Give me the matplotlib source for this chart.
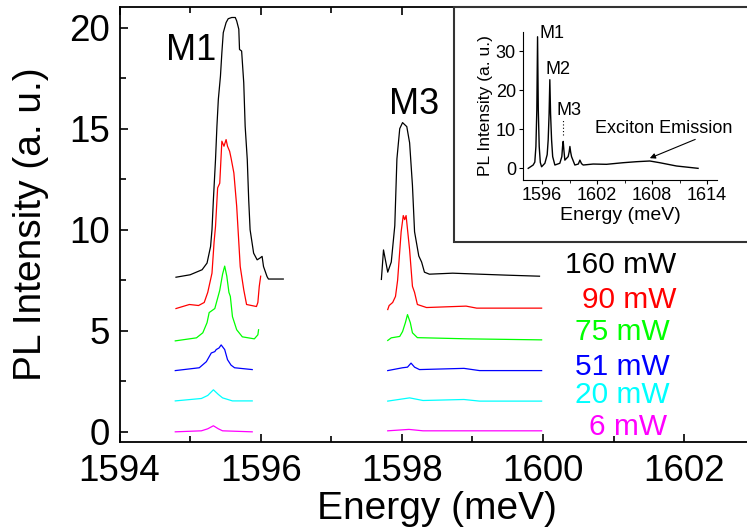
import matplotlib
matplotlib.use("Agg")
import matplotlib.pyplot as plt
from matplotlib.patches import Rectangle
from matplotlib.ticker import MultipleLocator

plt.rcParams['font.family'] = ['Liberation Sans', 'DejaVu Sans']

# ---- main panel data (offsets included) ----
powers = ["160 mW", "90 mW", "75 mW", "51 mW", "20 mW", "6 mW"]
colors = ["black", "red", "#00ff00", "blue", "cyan", "magenta"]

# M1 window
e_m1_160 = [1594.80, 1595.00, 1595.17, 1595.24, 1595.29, 1595.31, 1595.33, 1595.36,
            1595.38, 1595.40, 1595.43, 1595.45, 1595.47, 1595.51, 1595.54, 1595.59,
            1595.64, 1595.66, 1595.69, 1595.70, 1595.73, 1595.76, 1595.78, 1595.81,
            1595.83, 1595.85, 1595.90, 1595.95, 1595.99, 1596.02, 1596.04, 1596.09,
            1596.11, 1596.32]
i_m1_160 = [7.65, 7.77, 8.02, 8.35, 9.17, 10.0, 11.49, 13.47,
            15.12, 16.45, 17.6, 18.76, 19.75, 20.25, 20.44, 20.5,
            20.5, 20.33, 19.92, 18.92, 18.84, 17.27, 15.12, 13.47,
            11.49, 10.0, 8.84, 8.51, 8.6, 8.68, 8.18, 7.68,
            7.56, 7.56]
e_m1_90 = [1594.80, 1594.99, 1595.12, 1595.20, 1595.25, 1595.31, 1595.34, 1595.36,
           1595.39, 1595.42, 1595.45, 1595.48, 1595.51, 1595.53, 1595.56, 1595.58,
           1595.62, 1595.66, 1595.71, 1595.76, 1595.80, 1595.94, 1595.96, 1595.98,
           1596.00]
i_m1_90 = [6.10, 6.30, 6.25, 6.40, 6.90, 7.85, 9.40, 10.16,
           12.07, 12.30, 14.38, 14.13, 14.46, 14.13, 13.88, 13.55,
           12.81, 11.16, 8.18, 7.03, 6.30, 6.20, 6.40, 7.20,
           7.70]
e_m1_75 = [1594.79, 1595.09, 1595.18, 1595.24, 1595.27, 1595.35, 1595.42, 1595.46,
           1595.49, 1595.52, 1595.55, 1595.57, 1595.60, 1595.66, 1595.74, 1595.91,
           1595.96, 1595.97]
i_m1_75 = [4.50, 4.65, 4.90, 5.40, 5.90, 6.10, 7.00, 7.80,
           8.20, 7.70, 6.90, 6.70, 5.70, 5.05, 4.70, 4.60,
           4.80, 5.05]
e_m1_51 = [1594.79, 1595.13, 1595.23, 1595.30, 1595.35, 1595.37, 1595.41, 1595.44,
           1595.49, 1595.53, 1595.58, 1595.63, 1595.88]
i_m1_51 = [3.03, 3.17, 3.47, 3.90, 3.97, 4.07, 4.15, 4.30,
           4.07, 3.57, 3.30, 3.17, 3.08]
e_m1_20 = [1594.79, 1595.16, 1595.25, 1595.33, 1595.40, 1595.46, 1595.60, 1595.88]
i_m1_20 = [1.53, 1.65, 1.80, 2.08, 1.85, 1.68, 1.53, 1.53]
e_m1_6 = [1594.79, 1595.16, 1595.25, 1595.33, 1595.40, 1595.46, 1595.88]
i_m1_6 = [0.00, 0.05, 0.15, 0.30, 0.15, 0.05, 0.00]

# M3 window
e_m3_160 = [1597.71, 1597.74, 1597.80, 1597.85, 1597.90, 1597.93, 1597.97, 1598.01,
            1598.07, 1598.11, 1598.15, 1598.18, 1598.24, 1598.28, 1598.32, 1598.39,
            1598.72, 1599.10, 1599.50, 1599.95]
i_m3_160 = [7.54, 9.00, 7.90, 8.40, 10.2, 13.5, 15.0, 15.3,
            15.1, 14.3, 12.2, 9.90, 8.70, 8.40, 7.90, 7.80,
            7.85, 7.80, 7.75, 7.70]
e_m3_90 = [1597.80, 1597.82, 1597.87, 1597.91, 1597.94, 1597.99, 1598.02, 1598.04,
           1598.06, 1598.11, 1598.15, 1598.18, 1598.22, 1598.35, 1598.91, 1599.06,
           1599.98]
i_m3_90 = [6.05, 6.25, 6.40, 6.70, 7.50, 9.90, 10.7, 10.5,
           10.7, 9.00, 7.20, 6.90, 6.30, 6.15, 6.22, 6.12,
           6.12]
e_m3_75 = [1597.80, 1597.85, 1597.97, 1598.01, 1598.05, 1598.08, 1598.12, 1598.15,
           1598.22, 1598.94, 1599.98]
i_m3_75 = [4.52, 4.65, 4.72, 4.96, 5.40, 5.80, 5.40, 4.90,
           4.66, 4.60, 4.55]
e_m3_51 = [1597.80, 1598.01, 1598.08, 1598.13, 1598.18, 1598.25, 1598.88, 1599.10, 1599.98]
i_m3_51 = [3.03, 3.17, 3.20, 3.40, 3.20, 3.08, 3.14, 3.03, 3.03]
e_m3_20 = [1597.80, 1598.11, 1598.30, 1598.88, 1599.10, 1599.98]
i_m3_20 = [1.52, 1.68, 1.55, 1.60, 1.52, 1.52]
e_m3_6 = [1597.80, 1598.10, 1598.30, 1599.98]
i_m3_6 = [0.05, 0.12, 0.05, 0.05]

m1_e = [e_m1_160, e_m1_90, e_m1_75, e_m1_51, e_m1_20, e_m1_6]
m1_i = [i_m1_160, i_m1_90, i_m1_75, i_m1_51, i_m1_20, i_m1_6]
m3_e = [e_m3_160, e_m3_90, e_m3_75, e_m3_51, e_m3_20, e_m3_6]
m3_i = [i_m3_160, i_m3_90, i_m3_75, i_m3_51, i_m3_20, i_m3_6]

# label anchors (energy, intensity) for the power labels
label_e = [1600.31, 1600.55, 1600.45, 1600.45, 1600.45, 1600.65]
label_i = [8.27, 6.53, 4.96, 3.22, 1.82, 0.25]

# ---- inset data: full spectrum ----
inset_e = [1594.48, 1595.02, 1595.20, 1595.32, 1595.42, 1595.50, 1595.58, 1595.68,
           1595.80, 1595.94, 1596.30, 1596.55, 1596.66, 1596.76, 1596.84, 1596.92,
           1597.03, 1597.15, 1597.39, 1597.93, 1598.15, 1598.23, 1598.30, 1598.38,
           1598.48, 1598.84, 1598.95, 1599.03, 1599.11, 1599.21, 1599.57, 1599.95,
           1600.12, 1600.30, 1600.48, 1601.57, 1603.03, 1604.84, 1606.30, 1607.75,
           1608.84, 1610.66, 1613.02]
inset_i = [0.0, 0.85, 1.6, 5.6, 15.0, 33.7, 15.0, 5.6,
           1.5, 0.4, 1.3, 3.5, 7.3, 14.0, 22.7, 14.0,
           7.3, 3.0, 0.85, 1.3, 3.0, 5.6, 6.9, 4.5,
           2.1, 3.0, 4.2, 5.6, 4.2, 3.0, 0.85, 1.1,
           2.1, 1.2, 0.85, 1.1, 1.03, 1.44, 1.7, 1.88,
           1.44, 0.6, 0.0]

fig = plt.figure(figsize=(7.47, 5.28), dpi=100)

ax = fig.add_axes([0.160, 0.163, 0.840, 0.823])
for e, i, c in zip(m1_e, m1_i, colors):
    ax.plot(e, i, color=c, lw=0.9)
for e, i, c in zip(m3_e, m3_i, colors):
    ax.plot(e, i, color=c, lw=0.9)
for name, x, y, c in zip(powers, label_e, label_i, colors):
    ax.text(x, y, name, color=c, fontsize=21.5, ha='left', va='center')

ax.text(1595.02, 18.85, "M1", fontsize=26, ha='center', va='center')
ax.text(1598.17, 16.19, "M3", fontsize=26, ha='center', va='center')

ax.set_xlim(1594, 1602.89)
ax.set_ylim(-0.5, 21)
ax.xaxis.set_major_locator(MultipleLocator(2))
ax.xaxis.set_minor_locator(MultipleLocator(1))
ax.yaxis.set_major_locator(MultipleLocator(5))
ax.yaxis.set_minor_locator(MultipleLocator(2.5))
ax.tick_params(which='both', direction='in', top=True, right=False, width=1.2)
ax.tick_params(which='major', length=6, labelsize=26.5)
ax.tick_params(axis='x', which='major', pad=9)
ax.tick_params(axis='y', which='major', pad=7)
ax.tick_params(which='minor', length=4)
ax.spines['right'].set_visible(False)
for s in ['left', 'bottom', 'top']:
    ax.spines[s].set_linewidth(1.3)
ax.set_xlabel("Energy (meV)", fontsize=28)
ax.set_ylabel("PL Intensity (a. u.)", fontsize=28)
ax.xaxis.set_label_coords(0.506, -0.112)
ax.yaxis.set_label_coords(-0.112, 0.5)

# inset frame
frame = Rectangle((0.608, 0.542), 0.45, 0.444, transform=fig.transFigure,
                  facecolor='white', edgecolor='#333333', lw=1.5, zorder=3)
fig.add_artist(frame)

ins = fig.add_axes([0.700, 0.659, 0.260, 0.281], zorder=4)
ins.patch.set_alpha(0)
ins.plot(inset_e, inset_i, color='black', lw=1.0)
ins.plot([1598.3, 1598.3], [8.5, 12.4], color='black', lw=0.8, ls=(0, (1, 2)))
ins.set_xlim(1593.9, 1615.1)
ins.set_ylim(-3, 35)
ins.xaxis.set_major_locator(MultipleLocator(6))
ins.xaxis.set_minor_locator(MultipleLocator(3))
ins.yaxis.set_major_locator(MultipleLocator(10))
ins.spines['right'].set_visible(False)
ins.spines['top'].set_visible(False)
ins.tick_params(which='both', direction='out', labelsize=13, pad=2)
ins.tick_params(which='major', length=3)
ins.tick_params(which='minor', length=2)
ins.set_xlabel("Energy (meV)", fontsize=14, labelpad=2)
ins.set_ylabel("PL Intensity (a. u.)", fontsize=12.5, labelpad=2)
ins.text(1595.68, 34.6, "M1", fontsize=13, ha='left', va='center')
ins.text(1596.38, 25.2, "M2", fontsize=13, ha='left', va='center')
ins.text(1597.6, 14.8, "M3", fontsize=13, ha='left', va='center')
ins.annotate("Exciton Emission", xy=(1607.75, 2.6), xytext=(1601.75, 10.3),
             fontsize=13, ha='left', va='center',
             arrowprops=dict(arrowstyle='-|>', color='black', lw=0.8,
                             mutation_scale=8, shrinkA=0, shrinkB=0,
                             relpos=(0.78, 0.0)))

fig.savefig("out.png", dpi=100)
